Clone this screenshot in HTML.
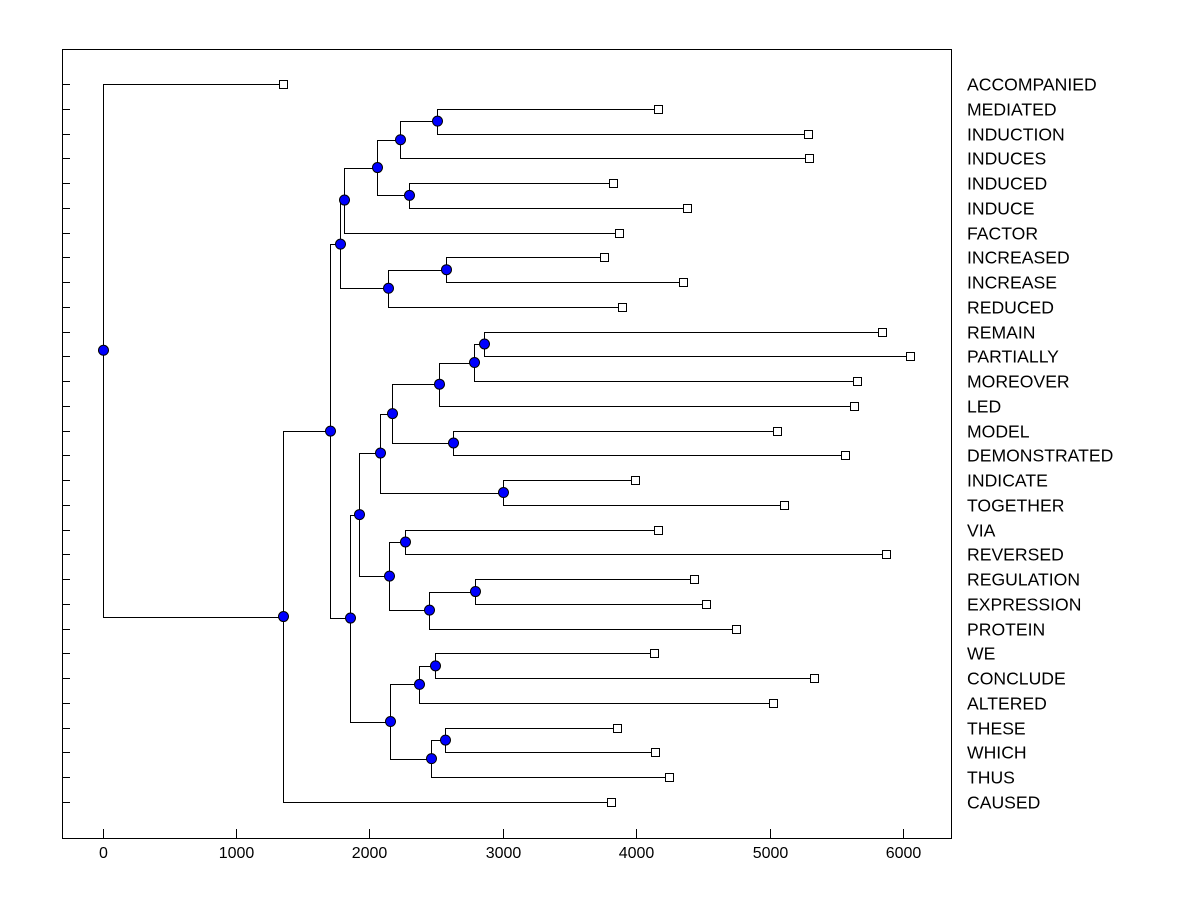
<!DOCTYPE html>
<html><head><meta charset="utf-8"><style>
body{margin:0;background:#fff;}
svg text{font-family:"Liberation Sans",Arial,sans-serif;font-size:16px;fill:#000;}
svg text.leaf{font-size:17.6px;}
</style></head><body>
<svg id="chart" width="1200" height="900" xmlns="http://www.w3.org/2000/svg"></svg>
<script>
const leafNames=["ACCOMPANIED","MEDIATED","INDUCTION","INDUCES","INDUCED","INDUCE","FACTOR","INCREASED","INCREASE","REDUCED","REMAIN","PARTIALLY","MOREOVER","LED","MODEL","DEMONSTRATED","INDICATE","TOGETHER","VIA","REVERSED","REGULATION","EXPRESSION","PROTEIN","WE","CONCLUDE","ALTERED","THESE","WHICH","THUS","CAUSED"];
const leafValues=[1356,4165,5288,5296,3828,4382,3873,3760,4352,3895,5843,6052,5655,5633,5056,5566,3993,5109,4165,5873,4434,4524,4749,4135,5333,5026,3858,4142,4247,3813];
// merges: [left, right, height]; numbers = leaf index, strings = merge id "m<k>"
const mergeLeft =[1,"m0",4,"m1","m3",7,"m5","m4",10,"m8","m9",14,"m10",16,"m12",18,20,"m16","m15","m14",23,"m20",26,"m22","m21","m19","m7","m26",0];
const mergeRight=[2,3,5,"m2",6,8,9,"m6",11,12,13,15,"m11",17,"m13",19,21,22,"m17","m18",24,25,27,28,"m23","m24","m25",29,"m27"];
const mergeHeights=[2509,2232,2300,2060,1813,2577,2142,1783,2861,2787,2524,2629,2172,3004,2082,2270,2794,2449,2150,1925,2494,2375,2569,2464,2157,1858,1708,1356,0];
const xTicks=[0,1000,2000,3000,4000,5000,6000];
</script>
<script>
const svg=document.getElementById('chart');
const NS="http://www.w3.org/2000/svg";
const L=62,R=951,T=49,B=838;
const xs=v=>102.5+v*0.13345;
const ys=i=>84+i*(802-84)/(leafNames.length-1);
function mk(tag,attrs,name){const e=document.createElementNS(NS,tag);for(const k in attrs)e.setAttribute(k,attrs[k]);


svg.appendChild(e);return e;}
mk('rect',{x:L+.5,y:T+.5,width:R-L,height:B-T,fill:'none',stroke:'#000','stroke-width':1},'plot-frame');
xTicks.forEach(t=>{const x=Math.round(xs(t))+.5;
mk('line',{x1:x,x2:x,y1:B-9,y2:B,stroke:'#000'},'x-tick');
const tx=mk('text',{x:x,y:858,'text-anchor':'middle'},'x-tick-label');tx.textContent=t;});
leafNames.forEach((n,i)=>{const y=Math.round(ys(i))+.5;
mk('line',{x1:L,x2:L+8,y1:y,y2:y,stroke:'#000'},'y-tick');
const tx=mk('text',{x:967,y:y+6,'class':'leaf'},'leaf-label');tx.textContent=n;});
const pos={};
function get(r){if(typeof r==='number')return {x:xs(leafValues[r]),y:ys(r)};return pos[r];}
const dots=[];
for(let k=0;k<mergeHeights.length;k++){
 const a=get(mergeLeft[k]),b=get(mergeRight[k]);const x=Math.round(xs(mergeHeights[k]))+.5;
 const y=(a.y+b.y)/2;pos['m'+k]={x:x,y:y};
 mk('path',{d:`M${Math.round(a.x)+.5},${Math.round(a.y)+.5}H${x}V${Math.round(b.y)+.5}H${Math.round(b.x)+.5}`,fill:'none',stroke:'#000'},'branch');
 dots.push([x,y]);
}
leafNames.forEach((n,i)=>{const x=Math.round(xs(leafValues[i]));const y=Math.round(ys(i));
mk('rect',{x:x-4+.5,y:y-4+.5,width:8,height:8,fill:'#fff',stroke:'#000'},'leaf-marker');});
dots.forEach(d=>mk('circle',{cx:d[0],cy:d[1],r:5,fill:'#0000ff',stroke:'#000','stroke-width':1},'node-marker'));
</script>
</body></html>
